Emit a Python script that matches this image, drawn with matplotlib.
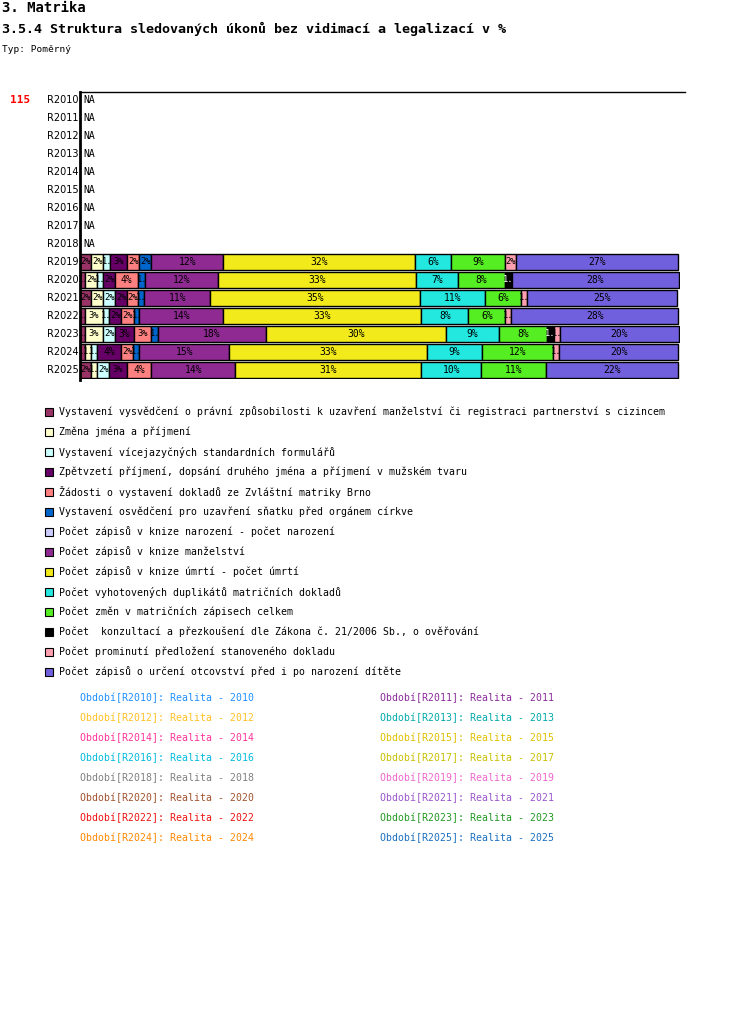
import matplotlib
matplotlib.use("Agg")
import matplotlib.pyplot as plt

years = [f"R{y}" for y in range(2010, 2026)]
categories = [
 "Vystavení vysvědčení o právní způsobilosti k uzavření manželství či registraci partnerství s cizincem",
 "Změna jména a příjmení",
 "Vystavení vícejazyčných standardních formulářů",
 "Zpětvzetí příjmení, dopsání druhého jména a příjmení v mužském tvaru",
 "Žádosti o vystavení dokladů ze Zvláštní matriky Brno",
 "Vystavení osvědčení pro uzavření sňatku před orgánem církve",
 "Počet zápisů v knize narození - počet narození",
 "Počet zápisů v knize manželství",
 "Počet zápisů v knize úmrtí - počet úmrtí",
 "Počet vyhotovených duplikátů matričních dokladů",
 "Počet změn v matričních zápisech celkem",
 "Počet  konzultací a přezkoušení dle Zákona č. 21/2006 Sb., o ověřování",
 "Počet prominutí předložení stanoveného dokladu",
 "Počet zápisů o určení otcovství před i po narození dítěte",
]
colors = ["#993366", "#FFFFCC", "#CCFFFF", "#660066", "#FF8080", "#0066CC", "#CCCCFF",
          "#8E2A92", "#F2EA1A", "#22E8E0", "#55EE22", "#000000", "#FFA0B0", "#7060DD"]
v2019 = [1.9, 2.0, 1.1, 2.9, 1.9, 2.1, 0, 12.0, 32.0, 6.0, 9.0, 0, 1.8, 27.0]
v2020 = [0.9, 1.9, 1.0, 2.1, 3.8, 1.2, 0, 12.1, 33.0, 7.0, 7.8, 1.2, 0, 27.8]
v2021 = [1.9, 1.9, 2.1, 1.9, 1.9, 1.0, 0, 11.0, 35.0, 10.8, 6.0, 0, 1.0, 25.0]
v2022 = [0.9, 2.9, 1.1, 2.0, 2.1, 0.9, 0, 14.0, 33.0, 7.8, 6.2, 0, 1.0, 27.8]
v2023 = [0.9, 2.9, 2.1, 3.1, 2.9, 1.1, 0, 18.0, 30.0, 8.8, 8.0, 1.2, 1.0, 19.8]
v2024 = [0.9, 0.9, 1.0, 4.1, 1.9, 1.1, 0, 15.0, 33.0, 9.1, 11.8, 0, 1.1, 19.8]
v2025 = [1.9, 0.9, 2.1, 2.9, 4.1, 0, 0, 14.0, 31.0, 10.0, 10.8, 0, 0, 22.0]
data = {"R2019": v2019, "R2020": v2020, "R2021": v2021, "R2022": v2022,
        "R2023": v2023, "R2024": v2024, "R2025": v2025}
period_colors = ["#1E90FF", "#8B2A9B", "#FFC020", "#00AAAA", "#FF3399", "#E0C000",
                 "#00BBDD", "#C8C000", "#808080", "#EE66CC", "#A0522D", "#9955CC",
                 "#EE1111", "#229922", "#FF8800", "#1A6FC0"]

W, H = 750, 1016
fig = plt.figure(figsize=(W/100, H/100), dpi=100)
mono = "DejaVu Sans Mono"
def T(x, y, s, **kw):
    kw.setdefault("family", mono); kw.setdefault("fontsize", 7.5)
    fig.text(x/W, 1-y/H, s, va="center", **kw)

T(2, 8, "3. Matrika", fontsize=10, weight="bold")
T(2, 29, "3.5.4 Struktura sledovaných úkonů bez vidimací a legalizací v %", fontsize=9.6, weight="bold")
T(2, 50, "Typ: Poměrný", fontsize=6.8)
T(10, 100, "115", color="red", weight="bold", fontsize=8)

ax = fig.add_axes([80/W, 1-379/H, 600/W, 288/H])
ax.set_xlim(0, 100); ax.set_ylim(15.5, -0.5)
ax.axis("off")
fig.add_artist(plt.Line2D([80/W, 685/W], [1-92/H]*2, color="black", lw=1))
fig.add_artist(plt.Line2D([80/W, 80/W], [1-92/H, 1-380/H], color="black", lw=2))
for i, y in enumerate(years):
    T(47, 100+18*i, y, fontsize=7, family="DejaVu Sans")
    if y not in data:
        ax.text(0.6, i, "NA", va="center", fontsize=7, family=mono)
        continue
    vals = data[y]
    left = 0
    for c, v in enumerate(vals):
        if v <= 0:
            continue
        ax.barh(i, v, left=left, height=0.88, color=colors[c], edgecolor="black", lw=1)
        lab = f"{round(v)}%" if v >= 1.5 else "1."
        tc = "white" if colors[c] == "#000000" else "black"
        ax.text(left+v/2, i, lab, ha="center", va="center", fontsize=6.3 if v < 3 else 7,
                family=mono, color=tc)
        left += v

for k, (cat, col) in enumerate(zip(categories, colors)):
    y = 412 + 20*k
    fig.add_artist(plt.Rectangle((45/W, 1-(y+4)/H), 8/W, 8/H, facecolor=col, edgecolor="black", lw=0.8))
    T(59, y, cat, fontsize=7.1)

for k, yr in enumerate(range(2010, 2026)):
    x = 80 if k % 2 == 0 else 380
    y = 698 + 20*(k//2)
    T(x, y, f"Období[R{yr}]: Realita - {yr}", color=period_colors[k], fontsize=7.1)

fig.savefig("out.png", dpi=100)
